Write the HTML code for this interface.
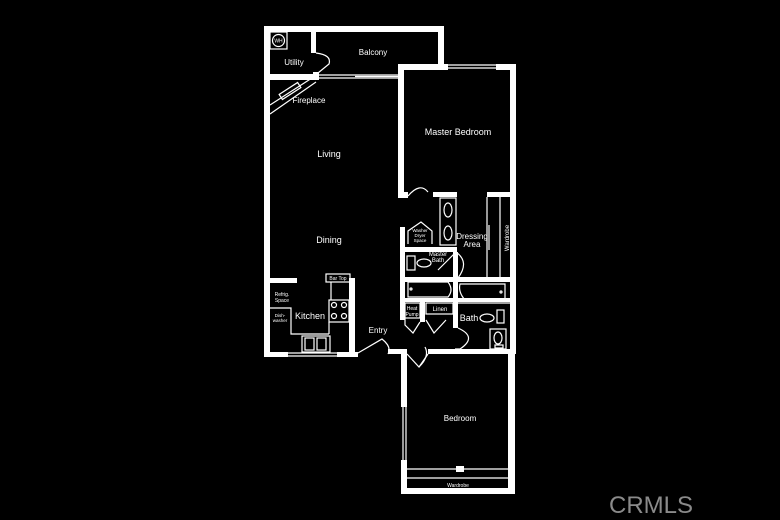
<!DOCTYPE html>
<html><head><meta charset="utf-8"><style>
html,body{margin:0;padding:0;background:#000;}
svg{display:block;}
text{font-family:"Liberation Sans",sans-serif;fill:#fff;}
</style></head><body>
<svg width="780" height="520" viewBox="0 0 780 520" xmlns="http://www.w3.org/2000/svg">
<rect width="780" height="520" fill="#000"/>
<g fill="#fff">
<rect x="264" y="26" width="180" height="6"/>
<rect x="264" y="26" width="6" height="331"/>
<rect x="438" y="26" width="6" height="42"/>
<rect x="311" y="26" width="5" height="27"/>
<rect x="264" y="74" width="52" height="6"/>
<rect x="313" y="72" width="6" height="8"/>
<rect x="398" y="64" width="50" height="6"/>
<rect x="496" y="64" width="20" height="6"/>
<rect x="510" y="64" width="6" height="290"/>
<rect x="398" y="64" width="6" height="132"/>
<rect x="398" y="192" width="10" height="6"/>
<rect x="433" y="192" width="24" height="5"/>
<rect x="487" y="192" width="25" height="5"/>
<rect x="400" y="227" width="5" height="93"/>
<rect x="404" y="247" width="53" height="5"/>
<rect x="404" y="277" width="110" height="5"/>
<rect x="404" y="298" width="110" height="4"/>
<rect x="453" y="252" width="5" height="76"/>
<rect x="420" y="302" width="5" height="20"/>
<rect x="264" y="278" width="33" height="5"/>
<rect x="349" y="278" width="6" height="78"/>
<rect x="264" y="352" width="24" height="5"/>
<rect x="337" y="352" width="21" height="5"/>
<rect x="388" y="349" width="19" height="5"/>
<rect x="428" y="349" width="88" height="5"/>
<rect x="401" y="349" width="6" height="58"/>
<rect x="401" y="460" width="6" height="34"/>
<rect x="508" y="349" width="7" height="145"/>
<rect x="401" y="488" width="114" height="6"/>
<rect x="456" y="466" width="8" height="6"/>
</g>
<g fill="none" stroke="#fff" stroke-width="1.2">
<rect x="270" y="32" width="17" height="17"/>
<circle cx="278.5" cy="40.5" r="6"/>
<path d="M316 53 Q332 55 329 64 L318 73"/>
<line x1="318" y1="75" x2="398" y2="75"/><line x1="318" y1="78" x2="398" y2="78"/>
<line x1="355" y1="76.5" x2="398" y2="76.5"/>
<line x1="448" y1="65" x2="496" y2="65"/><line x1="448" y1="68" x2="496" y2="68"/>
<path d="M270 105 L312 78 M270 114 L316 82"/>
<rect x="279" y="88" width="22" height="6" transform="rotate(-33 290 91)"/>
<path d="M408 196 Q420 182 428 192"/>
<rect x="440" y="198" width="16" height="47"/>
<ellipse cx="448" cy="210" rx="4" ry="7"/><ellipse cx="448" cy="233" rx="4" ry="7"/>
<line x1="487" y1="197" x2="487" y2="277"/><line x1="500" y1="197" x2="500" y2="277"/>
<line x1="489" y1="225" x2="489" y2="250"/>
<path d="M408 244 L408 231 L421 222 L432 231 L432 244"/>
<rect x="407" y="256" width="8" height="14"/>
<ellipse cx="424" cy="263" rx="7" ry="4"/>
<path d="M456 252 L438 270 M456 252 Q470 262 458 278"/>
<path d="M408 282 H448 Q454 290 448 297 H408 Z"/>
<circle cx="411" cy="289" r="1"/>
<path d="M460 284 H505 V300 H465 Q458 292 460 284 Z"/>
<circle cx="501" cy="292" r="1"/>
<rect x="405" y="303" width="15" height="15"/>
<rect x="426" y="303" width="27" height="11"/>
<path d="M405 318 L405 325 L413 333 L420 322"/>
<path d="M426 320 L434 333 L446 320"/>
<line x1="458" y1="303" x2="510" y2="303"/>
<ellipse cx="487" cy="318" rx="7" ry="4"/>
<rect x="497" y="310" width="7" height="13"/>
<rect x="490" y="329" width="16" height="20"/>
<ellipse cx="498" cy="338" rx="4" ry="6"/>
<rect x="495" y="345" width="8" height="3"/>
<path d="M458 328 Q478 337 460 349 L455 349"/>
<rect x="326" y="274" width="24" height="8"/>
<line x1="331" y1="282" x2="331" y2="300"/>
<rect x="329" y="300" width="20" height="22"/>
<circle cx="334" cy="305" r="2.5"/><circle cx="344" cy="305" r="2.5"/>
<circle cx="334" cy="316" r="2.5"/><circle cx="344" cy="316" r="2.5"/>
<line x1="329" y1="322" x2="329" y2="334"/>
<path d="M270 308 H291 V334 H329"/>
<rect x="302" y="336" width="28" height="16"/>
<rect x="305" y="338" width="9" height="12"/><rect x="317" y="338" width="9" height="12"/>
<line x1="288" y1="353" x2="337" y2="353"/><line x1="288" y1="356" x2="337" y2="356"/>
<path d="M358 353 L382 339 Q392 347 388 354"/>
<path d="M407 354 L419 367 L428 354"/>
<path d="M419 367 Q430 356 425 347"/>
<line x1="403" y1="407" x2="403" y2="460"/><line x1="406" y1="407" x2="406" y2="460"/>
<line x1="407" y1="469" x2="508" y2="469"/>
<line x1="407" y1="478" x2="508" y2="478"/>
</g>
<g font-size="8">
<text x="278.5" y="42.5" text-anchor="middle" font-size="5">WH</text>
<text x="294" y="65" text-anchor="middle">Utility</text>
<text x="373" y="55" text-anchor="middle">Balcony</text>
<text x="309" y="103" text-anchor="middle">Fireplace</text>
<text x="458" y="135" text-anchor="middle" font-size="9">Master Bedroom</text>
<text x="329" y="157" text-anchor="middle" font-size="9">Living</text>
<text x="329" y="243" text-anchor="middle" font-size="9">Dining</text>
<text x="472" y="239" text-anchor="middle">Dressing</text>
<text x="472" y="247" text-anchor="middle">Area</text>
<text x="438" y="256" text-anchor="middle" font-size="6">Master</text>
<text x="438" y="262" text-anchor="middle" font-size="6">Bath</text>
<text x="420" y="232" text-anchor="middle" font-size="4.5">Washer</text>
<text x="420" y="237" text-anchor="middle" font-size="4.5">Dryer</text>
<text x="420" y="242" text-anchor="middle" font-size="4.5">Space</text>
<text x="509" y="238" text-anchor="middle" font-size="6" transform="rotate(-90 509 238)">Wardrobe</text>
<text x="338" y="280" text-anchor="middle" font-size="5">Bar Top</text>
<text x="282" y="296" text-anchor="middle" font-size="5">Refrig.</text>
<text x="282" y="302" text-anchor="middle" font-size="5">Space</text>
<text x="280" y="317" text-anchor="middle" font-size="4.5">Dish-</text>
<text x="280" y="322" text-anchor="middle" font-size="4.5">washer</text>
<text x="310" y="319" text-anchor="middle" font-size="9">Kitchen</text>
<text x="378" y="333" text-anchor="middle">Entry</text>
<text x="412" y="310" text-anchor="middle" font-size="5">Heat</text>
<text x="412" y="316" text-anchor="middle" font-size="5">Pump</text>
<text x="440" y="311" text-anchor="middle" font-size="6">Linen</text>
<text x="469" y="321" text-anchor="middle" font-size="9">Bath</text>
<text x="460" y="421" text-anchor="middle">Bedroom</text>
<text x="458" y="487" text-anchor="middle" font-size="5">Wardrobe</text>
</g>
<text x="651" y="513" text-anchor="middle" font-size="24" style="fill:#8a8a8a">CRMLS</text>
</svg>
</body></html>
